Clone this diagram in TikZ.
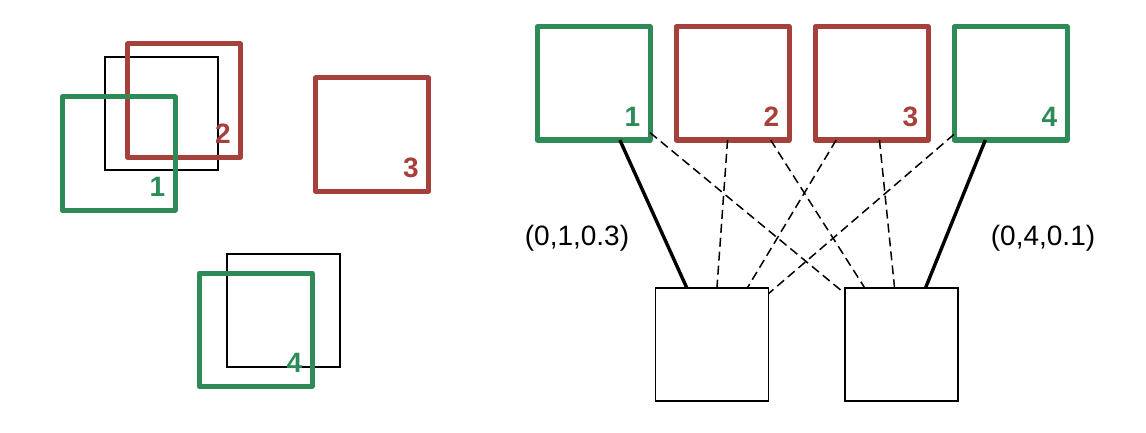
\documentclass[tikz,border=0pt]{standalone}
\usepackage{fontspec}
\setmainfont{Liberation Sans}
\usepackage{tikz}
\usetikzlibrary{positioning}
\definecolor{gr}{RGB}{46,139,87}
\definecolor{rd}{RGB}{166,64,59}
\tikzstyle{cell} = [draw, rectangle, minimum size=113pt, inner sep=0pt, outer sep=0pt, line width=1.6pt]
\tikzstyle{gcell} = [cell, draw=gr, line width=5pt, line join=round]
\tikzstyle{rcell} = [cell, draw=rd, line width=5pt, line join=round]
\tikzstyle{num} = [font=\fontsize{28}{34}\selectfont\bfseries, inner sep=0pt, xshift=39pt, yshift=-33.5pt]
\tikzstyle{tag} = [font=\fontsize{28}{34}\selectfont, inner sep=0pt]
\tikzstyle{link} = [line width=3.4pt]
\tikzstyle{maybe} = [line width=1.5pt, dash pattern=on 9pt off 5pt]

\begin{document}
\begin{tikzpicture}[x=1pt, y=1pt, node distance=139pt]
\useasboundingbox (0,0) rectangle (1146,432);

\node [cell] (a) at (161.4,318.3) {};
\node [rcell] (l2) at (184,331.5) {};
\node [gcell] (l1) at (118.5,278.5) {};
\node [rcell] (l3) at (372,297.5) {};
\node [cell] (b) at (283.5,121.3) {};
\node [gcell] (l4) at (255.5,102.3) {};
\node [num, text=gr] (m1) at (l1) {1};
\node [num, text=rd] (m2) at (l2) {2};
\node [num, text=rd] (m3) at (l3) {3};
\node [num, text=gr] (m4) at (l4) {4};

\node [gcell] (t1) at (593.5,348.5) {};
\node [rcell, right of=t1] (t2) {};
\node [rcell, right of=t2] (t3) {};
\node [gcell, right of=t3] (t4) {};
\node [num, text=gr] (n1) at (t1) {1};
\node [num, text=rd] (n2) at (t2) {2};
\node [num, text=rd] (n3) at (t3) {3};
\node [num, text=gr] (n4) at (t4) {4};

\node [cell] (s1) at (712,87.5) {};
\node [cell, right of=s1, node distance=189.5pt] (s2) {};

\node [tag] (w1) at (577,194) {(0,1,0.3)};
\node [tag] (w4) at (1043,194) {(0,4,0.1)};

\draw [link] (t1.-65) -- (s1.114);
\draw [link] (t4.-114) -- (s2.67);
\draw [maybe] (t1.-41) -- (s2.138);
\draw [maybe] (t2.-95) -- (s1.85);
\draw [maybe] (t2.-56) -- (s2.123);
\draw [maybe] (t3.-122) -- (s1.58);
\draw [maybe] (t3.-82) -- (s2.97);
\draw [maybe] (t4.-138) -- (s1.42);

\end{tikzpicture}
\end{document}
